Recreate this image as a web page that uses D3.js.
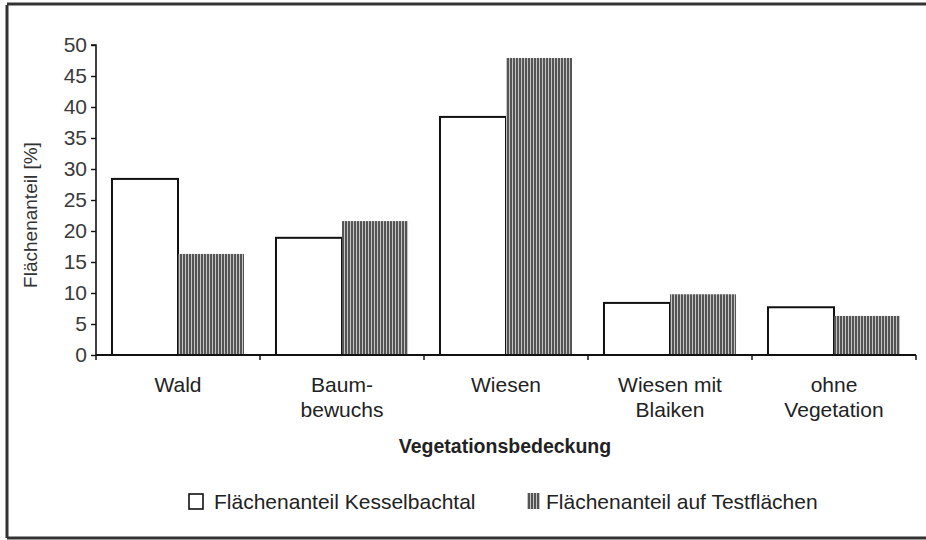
<!DOCTYPE html>
<html><head><meta charset="utf-8">
<script src="https://cdn.jsdelivr.net/npm/d3@7"></script>
<style>body{margin:0;background:#fff}svg{display:block}text{font-family:"Liberation Sans",Arial,sans-serif}</style>
</head><body><div id="c"></div>
<script>
const categories = [["Wald"],["Baum-","bewuchs"],["Wiesen"],["Wiesen mit","Blaiken"],["ohne","Vegetation"]];
const kesselbachtal = [28.4, 18.9, 38.4, 8.4, 7.7];
const testflaechen = [16.3, 21.6, 47.9, 9.8, 6.3];
const seriesNames = ["Flächenanteil Kesselbachtal", "Flächenanteil auf Testflächen"];
const yTicks = [0,5,10,15,20,25,30,35,40,45,50];
const yTitle = "Flächenanteil [%]";
const xTitle = "Vegetationsbedeckung";

const W = 926, H = 540;
const svg = d3.select("#c").append("svg").attr("width", W).attr("height", H);
const defs = svg.append("defs");
const pat = defs.append("pattern").attr("id","hatch").attr("patternUnits","userSpaceOnUse")
  .attr("width",3).attr("height",10);
pat.append("rect").attr("width",3).attr("height",10).attr("fill","#c4c4c4");
pat.append("rect").attr("width",2).attr("height",10).attr("fill","#555");

// frame (scan border)
svg.append("line").attr("x1",7).attr("x2",7).attr("y1",5).attr("y2",538).attr("stroke","#333").attr("stroke-width",3);
svg.append("line").attr("x1",7).attr("x2",926).attr("y1",4).attr("y2",4).attr("stroke","#333").attr("stroke-width",3);
svg.append("line").attr("x1",7).attr("x2",926).attr("y1",538).attr("y2",538).attr("stroke","#333").attr("stroke-width",3);

const x0 = 96, x1 = 916, yTop = 45, yBot = 355;
const x = d3.scaleBand().domain(d3.range(categories.length)).range([x0, x1]).paddingInner(0).paddingOuter(0);
const y = d3.scaleLinear().domain([0,50]).range([yBot, yTop]);
const inner = d3.scaleBand().domain([0,1]).range([0, x.bandwidth()]).paddingOuter(0.242).paddingInner(0);

// bars
const g = svg.append("g");
categories.forEach((c,i)=>{
  const vals = [kesselbachtal[i], testflaechen[i]];
  vals.forEach((v,j)=>{
    const bx = x(i) + inner(j);
    if (j===0) {
      g.append("rect").attr("x",bx).attr("y",y(v)).attr("width",inner.bandwidth()).attr("height",yBot-y(v))
        .attr("fill","#fff").attr("stroke","#111").attr("stroke-width",2);
    } else {
      g.append("rect").attr("x",bx).attr("y",y(v)).attr("width",inner.bandwidth()).attr("height",yBot-y(v))
        .attr("fill","url(#hatch)");
    }
  });
});

// y axis
const ya = svg.append("g").attr("transform",`translate(${x0},0)`)
  .call(d3.axisLeft(y).tickValues(yTicks).tickSize(5).tickPadding(4));
ya.select(".domain").attr("stroke","#111").attr("stroke-width",1.6).attr("d",`M-5,${yTop}H0V${yBot}`);
ya.selectAll(".tick line").attr("stroke","#111").attr("stroke-width",1.4);
ya.selectAll(".tick text").attr("font-size",21).attr("fill","#3a3a3a").attr("font-family","Liberation Sans, Arial, sans-serif");

// x axis
const xa = svg.append("g").attr("transform",`translate(0,${yBot})`);
xa.append("line").attr("x1",x0).attr("x2",x1).attr("y1",0).attr("y2",0).attr("stroke","#111").attr("stroke-width",1.8);
d3.range(categories.length+1).forEach(i=>{
  const tx = i<categories.length ? x(i) : x1;
  xa.append("line").attr("x1",tx).attr("x2",tx).attr("y1",0).attr("y2",5).attr("stroke","#111").attr("stroke-width",1.5);
});
categories.forEach((lines,i)=>{
  const cx = x(i) + x.bandwidth()/2;
  lines.forEach((t,k)=>{
    svg.append("text").attr("x",cx).attr("y",392 + k*25).attr("text-anchor","middle")
      .attr("font-size",21).attr("fill","#222").text(t);
  });
});

// titles
svg.append("text").attr("transform",`translate(37,215) rotate(-90)`).attr("text-anchor","middle")
  .attr("font-size",19).attr("fill","#333").text(yTitle);
svg.append("text").attr("x",505).attr("y",453).attr("text-anchor","middle").attr("font-size",19.5)
  .attr("font-weight","bold").attr("fill","#222").text(xTitle);

// legend
const lg = svg.append("g");
lg.append("rect").attr("x",189).attr("y",494).attr("width",14).attr("height",15).attr("fill","#fff").attr("stroke","#111").attr("stroke-width",1.6);
lg.append("text").attr("x",214).attr("y",509).attr("font-size",21).attr("fill","#222").text(seriesNames[0]);
lg.append("rect").attr("x",527).attr("y",493).attr("width",13).attr("height",16).attr("fill","url(#hatch)");
lg.append("text").attr("x",546).attr("y",509).attr("font-size",21).attr("fill","#222").text(seriesNames[1]);
</script></body></html>
